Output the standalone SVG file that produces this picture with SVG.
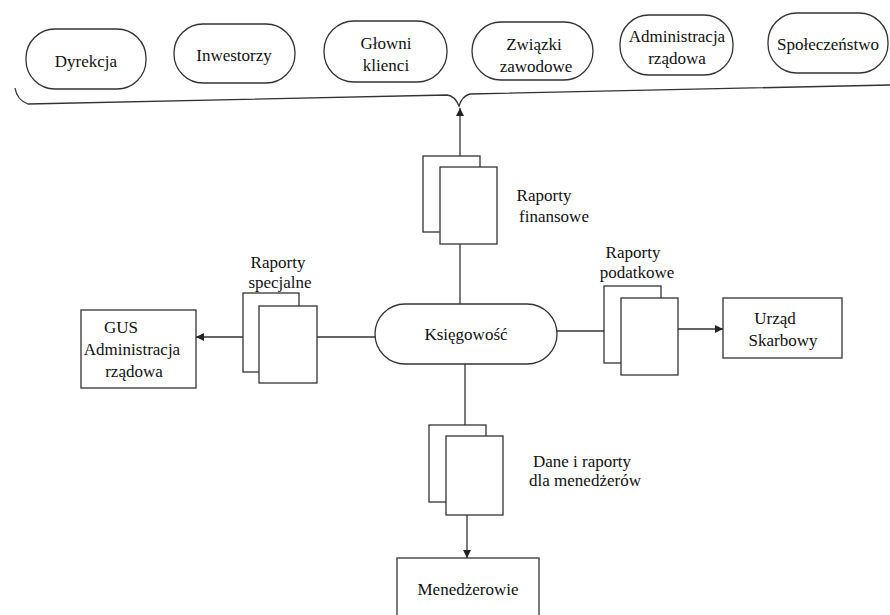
<svg xmlns="http://www.w3.org/2000/svg" width="890" height="615" viewBox="0 0 890 615">
  <style>
    .shape { fill: #ffffff; stroke: #333333; stroke-width: 1.3; }
    .line { fill: none; stroke: #333333; stroke-width: 1.3; }
    .label { font-family: "Liberation Serif", "Times New Roman", serif; font-size: 17px; fill: #111111; text-anchor: middle; }
  </style>
  <defs>
    <marker id="arrow" viewBox="0 0 10 10" refX="10" refY="5" markerWidth="10" markerHeight="8" markerUnits="userSpaceOnUse" orient="auto">
      <path d="M0,0 L10,5 L0,10 Z" fill="#222222"/>
    </marker>
  </defs>
  <rect width="890" height="615" fill="#ffffff"/>

  <!-- stakeholders -->
  <g id="dyrekcja">
    <rect class="shape" x="26" y="29" width="120" height="60" rx="29"/>
    <text class="label" x="86" y="67">Dyrekcja</text>
  </g>
  <g id="inwestorzy">
    <rect class="shape" x="174" y="24" width="121" height="59" rx="29"/>
    <text class="label" x="234" y="61">Inwestorzy</text>
  </g>
  <g id="glowni-klienci">
    <rect class="shape" x="324" y="21" width="123" height="61" rx="30"/>
    <text class="label" x="386" y="49">Głowni</text>
    <text class="label" x="386" y="71">klienci</text>
  </g>
  <g id="zwiazki-zawodowe">
    <rect class="shape" x="472" y="22" width="121" height="58" rx="29"/>
    <text class="label" x="534" y="50">Związki</text>
    <text class="label" x="536" y="72">zawodowe</text>
  </g>
  <g id="administracja-top">
    <rect class="shape" x="620" y="15" width="113" height="60" rx="29"/>
    <text class="label" x="677" y="42">Administracja</text>
    <text class="label" x="677" y="64">rządowa</text>
  </g>
  <g id="spoleczenstwo">
    <rect class="shape" x="768" y="13" width="120" height="60" rx="29"/>
    <text class="label" x="828" y="50">Społeczeństwo</text>
  </g>

  <!-- central node -->
  <g id="ksiegowosc">
    <rect class="shape" x="375" y="304" width="182" height="60" rx="30"/>
    <text class="label" x="466" y="340">Księgowość</text>
  </g>

  <!-- recipients -->
  <g id="gus">
    <rect class="shape" x="81" y="310" width="115" height="78"/>
    <text class="label" x="121" y="333">GUS</text>
    <text class="label" x="132" y="355">Administracja</text>
    <text class="label" x="134" y="377">rządowa</text>
  </g>
  <g id="urzad-skarbowy">
    <rect class="shape" x="723" y="298" width="119" height="60"/>
    <text class="label" x="775" y="324">Urząd</text>
    <text class="label" x="783" y="346">Skarbowy</text>
  </g>
  <g id="menedzerowie">
    <rect class="shape" x="397" y="558" width="142" height="70"/>
    <text class="label" x="468" y="595">Menedżerowie</text>
  </g>

  <!-- report stacks -->
  <g id="raporty-finansowe">
    <rect class="shape" x="423" y="156" width="57" height="76"/>
    <rect class="shape" x="440" y="167" width="57" height="77"/>
    <text class="label" x="544" y="201">Raporty</text>
    <text class="label" x="554" y="222">finansowe</text>
  </g>
  <g id="raporty-specjalne">
    <rect class="shape" x="243" y="293" width="56" height="79"/>
    <rect class="shape" x="259" y="306" width="58" height="77"/>
    <text class="label" x="278" y="268">Raporty</text>
    <text class="label" x="280" y="288">specjalne</text>
  </g>
  <g id="raporty-podatkowe">
    <rect class="shape" x="604" y="286" width="57" height="77"/>
    <rect class="shape" x="621" y="298" width="57" height="77"/>
    <text class="label" x="633" y="258">Raporty</text>
    <text class="label" x="637" y="278">podatkowe</text>
  </g>
  <g id="dane-i-raporty">
    <rect class="shape" x="429" y="425" width="57" height="77"/>
    <rect class="shape" x="446" y="436" width="57" height="79"/>
    <text class="label" x="582" y="467">Dane i raporty</text>
    <text class="label" x="585" y="486">dla menedżerów</text>
  </g>

  <!-- connectors -->
  <g id="connectors">
    <!-- brace gathering the stakeholders -->
    <path class="line" d="M15,88 Q17,100 28,104 L447,95 Q455,96 459,106 Q462,96 470,94 L890,85"/>
    <line class="line" x1="460" y1="156" x2="460" y2="108" marker-end="url(#arrow)"/>
    <line class="line" x1="460" y1="244" x2="460" y2="304"/>
    <line class="line" x1="375" y1="337" x2="317" y2="337"/>
    <line class="line" x1="243" y1="337" x2="196" y2="337" marker-end="url(#arrow)"/>
    <line class="line" x1="557" y1="331" x2="604" y2="331"/>
    <line class="line" x1="678" y1="329" x2="723" y2="329" marker-end="url(#arrow)"/>
    <line class="line" x1="465" y1="364" x2="465" y2="425"/>
    <line class="line" x1="467" y1="515" x2="467" y2="558" marker-end="url(#arrow)"/>
  </g>
</svg>
